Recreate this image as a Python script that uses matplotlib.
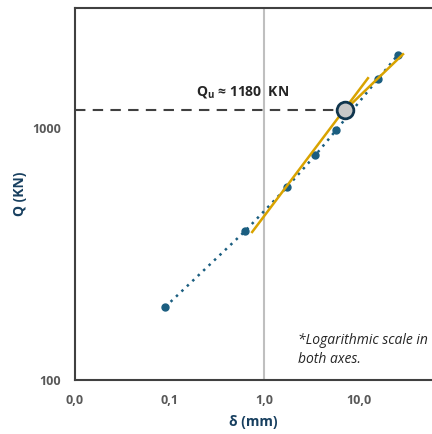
import matplotlib.pyplot as plt

plt.rcParams['font.family'] = ['Open Sans', 'DejaVu Sans']

# load test readings: settlement (mm) vs load (KN)
delta = [0.09, 0.63, 1.75, 3.5, 5.8, 16.0, 26.0]
load = [195, 390, 583, 781, 982, 1564, 1950]

# tangent lines drawn on the curve
tan1_x = [0.75, 12.6]
tan1_y = [387, 1579]
tan2_x = [7.2, 29.6]
tan2_y = [1180, 1966]

# ultimate load point
qu_x = 7.2
qu_y = 1180

xticks = [0.01, 0.1, 1, 10]
xlabels = ['0,0', '0,1', '1,0', '10,0']
yticks = [100, 1000]
ylabels = ['100', '1000']

blue = '#1B5E80'
gold = '#D9A300'
navy = '#10354D'

fig = plt.figure(figsize=(4.32, 4.34), dpi=100)
ax = fig.add_axes([75 / 432, 54 / 434, 357 / 432, 372 / 434])
ax.set_xscale('log')
ax.set_yscale('log')
ax.set_xlim(0.01, 60)
ax.set_ylim(100, 3000)

# vertical reference line at 1 mm
ax.axvline(1, color='#BFBFBF', lw=1.5, zorder=1)

# measured curve
ax.plot(delta, load, linestyle=(0, (1, 2)), color=blue, lw=1.8,
        marker='o', markersize=5, zorder=3)

# tangents
ax.plot(tan1_x, tan1_y, color=gold, lw=1.8, zorder=4)
ax.plot(tan2_x, tan2_y, color=gold, lw=1.8, zorder=4)

# dashed line to the ultimate load
ax.plot([0.01, qu_x], [qu_y, qu_y], color='#404040', lw=1.5,
        linestyle=(0, (5, 3.5)), zorder=2)
ax.plot(qu_x, qu_y, 'o', markersize=12, markerfacecolor='#C8C8C8',
        markeredgecolor=navy, markeredgewidth=2, zorder=5)

ax.text(0.6, 1390, r'Q$_\mathregular{u}$ ≈ 1180  KN', ha='center', va='center',
        fontsize=10, fontweight='bold', color='#262626')

ax.text(0.625, 0.08, '*Logarithmic scale in\nboth axes.', transform=ax.transAxes,
        fontsize=10, style='italic', color='#262626', va='center', linespacing=1.35)

ax.set_xticks(xticks)
ax.set_xticklabels(xlabels)
ax.set_yticks(yticks)
ax.set_yticklabels(ylabels)
ax.minorticks_off()
ax.tick_params(length=0, pad=10, labelsize=9, labelcolor='#595959')
for lab in ax.get_xticklabels() + ax.get_yticklabels():
    lab.set_fontweight('bold')

ax.set_xlabel('δ (mm)', fontsize=10, fontweight='bold', color='#173F5F', labelpad=6)
ax.set_ylabel('Q (KN)', fontsize=10, fontweight='bold', color='#173F5F', labelpad=4)

for side in ['left', 'bottom', 'top']:
    ax.spines[side].set_color('#404040')
    ax.spines[side].set_linewidth(1.5)
ax.spines['right'].set_visible(False)

fig.savefig('out.png', dpi=100)
